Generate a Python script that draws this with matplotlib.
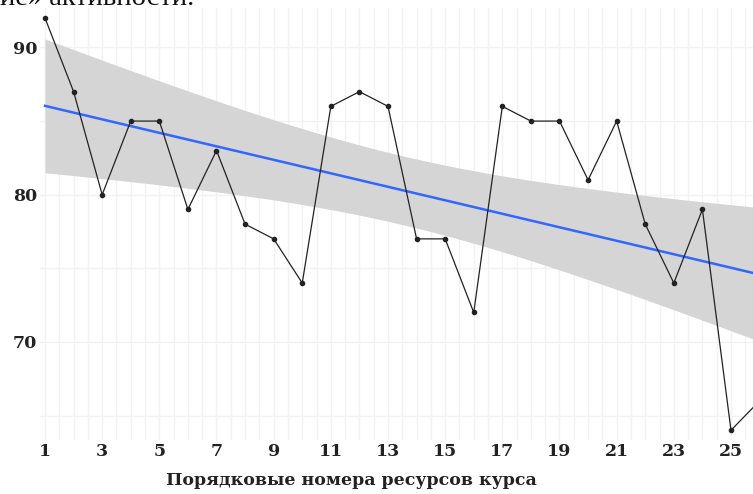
import numpy as np
import matplotlib
matplotlib.use("Agg")
import matplotlib.pyplot as plt

# resource numbers and activity values
resource_no = list(range(1, 27))
activity = [92, 87, 80, 85, 85, 79, 83, 78, 77, 74, 86, 87, 86,
            77, 77, 72, 86, 85, 85, 81, 85, 78, 74, 79, 64, 66]
x_ticks = list(range(1, 26, 2))
y_ticks = [70, 80, 90]
x_label = "Порядковые номера ресурсов курса"
caption_tail = "ие» активности."

plt.rcParams['font.family'] = ['Liberation Serif', 'DejaVu Serif']

x = np.array(resource_no, dtype=float)
y = np.array(activity, dtype=float)

# linear fit with 95% confidence band (t for 24 df)
n = len(x)
slope, intercept = np.polyfit(x, y, 1)
resid = y - (slope * x + intercept)
s = np.sqrt(np.sum(resid ** 2) / (n - 2))
sxx = np.sum((x - x.mean()) ** 2)
t_crit = 2.064
xs = np.linspace(x.min(), x.max(), 200)
fit = slope * xs + intercept
se = s * np.sqrt(1.0 / n + (xs - x.mean()) ** 2 / sxx)

fig = plt.figure(figsize=(7.53, 4.94), dpi=100)
ax = fig.add_axes([40 / 753, 54 / 494, 713 / 753, 432 / 494])

for gx in np.arange(0.5, 27, 0.5):
    ax.axvline(gx, color='#f2f2f2', lw=1.0, zorder=0)
for gy in range(60, 95, 5):
    ax.axhline(gy, color='#f2f2f2', lw=1.0, zorder=0)

ax.fill_between(xs, fit - t_crit * se, fit + t_crit * se, color='#d5d5d5', lw=0, zorder=1)
ax.plot(xs, fit, color='#3366FF', lw=1.8, zorder=2)
ax.plot(x, y, color='#222222', lw=0.9, marker='o', ms=3, zorder=3)

ax.set_xlim(0.825, 25.77)
ax.set_ylim(63.34, 92.68)
ax.set_xticks(x_ticks)
ax.set_yticks(y_ticks)
ax.tick_params(length=0, labelsize=12.5, pad=2, colors='#222222')
for lbl in ax.get_xticklabels() + ax.get_yticklabels():
    lbl.set_fontweight('bold')
    lbl.set_family('DejaVu Serif')
for sp in ax.spines.values():
    sp.set_visible(False)

fig.text(351 / 753, 1 - 480 / 494, x_label, ha='center', va='center',
         fontsize=12.5, fontweight='bold', family='DejaVu Serif', color='#222222')
fig.text(0.0, 1 - 5 / 494, caption_tail, ha='left', va='baseline',
         fontsize=20.5, color='#111111')

fig.savefig("out.png", dpi=100)
